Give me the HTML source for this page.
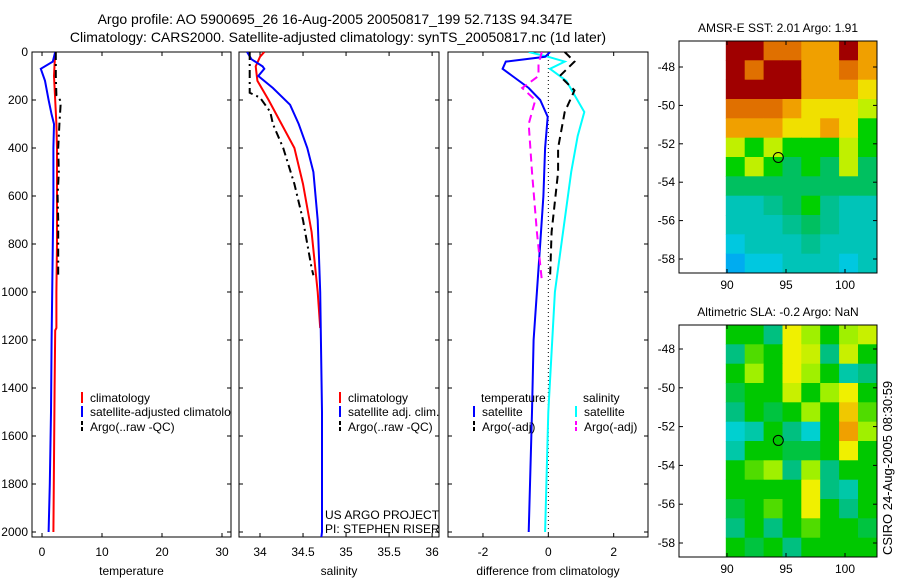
<!DOCTYPE html>
<html><head><meta charset="utf-8"><style>
body{margin:0;background:#fff}
svg{display:block;font-family:"Liberation Sans",sans-serif}
</style></head><body>
<svg id="fig" width="900" height="580" viewBox="0 0 900 580">
<defs><clipPath id="c1"><rect x="32" y="52" width="199" height="485"/></clipPath>
<clipPath id="c2"><rect x="239" y="52" width="200" height="485"/></clipPath>
<clipPath id="c3"><rect x="448" y="52" width="200" height="485"/></clipPath></defs>
<text x="335" y="24" font-size="14" text-anchor="middle">Argo profile: AO 5900695_26 16-Aug-2005 20050817_199 52.713S 94.347E</text>
<text x="338" y="42" font-size="14" text-anchor="middle">Climatology: CARS2000. Satellite-adjusted climatology: synTS_20050817.nc (1d later)</text>
<g id="g"></g>
<text x="325" y="519" font-size="12">US ARGO PROJECT</text>
<text x="325" y="533" font-size="12">PI: STEPHEN RISER</text>
<text transform="translate(892,555) rotate(-90)" font-size="13">CSIRO 24-Aug-2005 08:30:59</text>
</svg>
<script>
// ---- data ----
const depthTicks=[0,200,400,600,800,1000,1200,1400,1600,1800,2000];
const tempTicks=[0,10,20,30];
const salTicks=[34,34.5,35,35.5,36];
const salTickLabels=["34","34.5","35","35.5","36"];
const diffTicks=[-2,0,2];
const tClimD=[0,50,100,200,300,400,600,800,1000,1150,1160,1400,1700,2000];
const tClimV=[2.2,2.1,2.0,2.2,2.4,2.5,2.5,2.5,2.4,2.4,2.2,2.1,2.0,1.9];
const tSatD=[0,40,70,120,200,260,300,400,600,800,1000,1200,1500,1800,2000];
const tSatV=[2.2,1.8,-0.2,0.5,1.1,1.6,2.0,1.9,1.9,1.8,1.7,1.6,1.5,1.3,1.1];
const tArgoD=[0,100,180,200,220,300,400,500,600,700,800,930];
const tArgoV=[2.3,2.3,2.4,3.0,3.1,2.9,2.7,2.8,2.6,2.7,2.7,2.7];
const sClimD=[0,20,60,120,200,300,400,550,750,1000,1150];
const sClimV=[34.05,34.0,33.95,33.97,34.1,34.25,34.4,34.5,34.6,34.67,34.7];
const sSatD=[0,30,60,70,100,150,220,300,400,500,700,1000,1500,2000,2030];
const sSatV=[33.85,33.9,34.03,34.05,33.98,34.15,34.35,34.45,34.55,34.62,34.67,34.7,34.72,34.72,34.71];
const sArgoD=[0,170,190,250,300,400,550,700,900,930];
const sArgoV=[33.88,33.88,34.0,34.12,34.15,34.27,34.4,34.5,34.6,34.62];
const dTSatD=[0,20,40,70,100,150,200,270,400,600,800,1000,1200,1500,2000];
const dTSatV=[0.05,-0.1,-1.3,-1.4,-1.1,-0.6,-0.25,-0.02,-0.1,-0.15,-0.25,-0.35,-0.45,-0.5,-0.6];
const dSSatD=[0,20,40,70,120,250,350,500,800,1000,1500,2000];
const dSSatV=[-0.6,0.0,0.5,0.05,0.55,1.1,0.9,0.7,0.4,0.2,0.0,-0.1];
const dTArgoD=[0,40,100,160,250,400,500,750,950];
const dTArgoV=[0.5,0.8,0.35,0.8,0.5,0.3,0.3,0.1,0.05];
const dSArgoD=[0,50,100,150,200,300,500,750,950];
const dSArgoV=[-0.2,-0.3,-0.3,-0.8,-0.4,-0.6,-0.5,-0.35,-0.2];
const lonTicks=[90,95,100];
const latTicks=[-48,-50,-52,-54,-56,-58];
const sstGrid=[
[8,8,7,7,6,6,8,6],[8,7,8,8,6,6,7,6],[8,8,8,8,6,6,6,5],[7,7,7,6,5,5,5,4],
[6,6,6,5,5,6,5,3],[4,3,4,3,3,3,4,3],[3,4,3,2.5,3,2.5,4,2.5],[2.5,2.5,2.5,2.5,2.5,2.5,2.5,2.5],
[1.5,1.5,2,2.5,3,2,1.5,1.5],[1.5,1.5,1.5,2,2.5,2,1.5,1.5],[1,1.5,1.5,1.5,2,1.5,1.5,1.5],[0.5,1,1,1.5,1.5,1.5,1,1.5]];
const slaGrid=[
[0,0,-0.1,0.2,0.1,0,0.1,0.15],[-0.1,0.05,0,0.2,0.15,-0.1,0.15,0],[0,0.1,0,0.2,0.1,0,-0.15,-0.1],
[-0.05,0,0,0.15,0,0.1,0.2,0],[-0.1,0,-0.05,0,0.1,0,0.25,0.05],[-0.2,-0.15,0,-0.1,-0.2,0,0.3,0.1],
[-0.15,0,0,-0.05,-0.05,0,0.2,0],[0,0.05,0.1,-0.1,0.1,-0.1,0,0],[0,0,0,0,0.2,-0.1,-0.15,0],
[-0.05,0,0.05,0,0.2,0,-0.1,0],[-0.1,0,-0.1,0,0.05,0,0,-0.05],[0,-0.05,0,-0.1,0,0,0,0]];
const argoLon=94.347, argoLat=-52.713;

const NS="http://www.w3.org/2000/svg";
const G=document.getElementById('g');
function el(t,a,p){const e=document.createElementNS(NS,t);for(const k in a)e.setAttribute(k,a[k]);(p||G).appendChild(e);return e;}
const yD=d=>52+d*0.24;
const panels=[
 {x0:32,x1:231,vmin:-1.67,vmax:31.5,ticks:tempTicks,labels:tempTicks.map(String),xl:"temperature",name:"temperature"},
 {x0:239,x1:439,vmin:33.756,vmax:36.08,ticks:salTicks,labels:salTickLabels,xl:"salinity",name:"salinity"},
 {x0:448,x1:648,vmin:-3.07,vmax:3.05,ticks:diffTicks,labels:diffTicks.map(String),xl:"difference from climatology",name:"difference"}];
panels.forEach(p=>p.sx=v=>p.x0+(v-p.vmin)/(p.vmax-p.vmin)*(p.x1-p.x0));
panels.forEach((p,i)=>{
 const f=el('rect',{x:p.x0,y:52,width:p.x1-p.x0,height:485,fill:'none',stroke:'#000','stroke-width':1});
 
 
 p.ticks.forEach((t,j)=>{const x=p.sx(t);
  el('line',{x1:x,x2:x,y1:537,y2:533,stroke:'#000'});el('line',{x1:x,x2:x,y1:52,y2:56,stroke:'#000'});
  const tx=el('text',{x:x,y:556,'font-size':12,'text-anchor':'middle'});tx.textContent=p.labels[j];
  
  });
 depthTicks.forEach(d=>{const y=yD(d);
  el('line',{x1:p.x0,x2:p.x0+4,y1:y,y2:y,stroke:'#000'});el('line',{x1:p.x1,x2:p.x1-4,y1:y,y2:y,stroke:'#000'});
  if(i==0){const tx=el('text',{x:28,y:y+4,'font-size':12,'text-anchor':'end'});tx.textContent=d;
   
   }});
 const xl=el('text',{x:(p.x0+p.x1)/2,y:575,'font-size':12,'text-anchor':'middle'});xl.textContent=p.xl;
 
 
});
function line(p,D,V,col,w,dash,name,clip){
 const pts=D.map((d,k)=>p.sx(V[k]).toFixed(1)+','+yD(d).toFixed(1)).join(' ');
 const a={points:pts,fill:'none',stroke:col,'stroke-width':w,'clip-path':'url(#'+clip+')'};
 if(dash)a['stroke-dasharray']=dash;
 const e=el('polyline',a);
 
 
}
const [P1,P2,P3]=panels;
line(P1,tClimD,tClimV,'#f00',2,null,'temp-climatology-line','c1');
line(P1,tSatD,tSatV,'#00f',2,null,'temp-satellite-line','c1');
line(P1,tArgoD,tArgoV,'#000',2,'8,4,2,4','temp-argo-line','c1');
line(P2,sClimD,sClimV,'#f00',2,null,'sal-climatology-line','c2');
line(P2,sSatD,sSatV,'#00f',2,null,'sal-satellite-line','c2');
line(P2,sArgoD,sArgoV,'#000',2,'8,4,2,4','sal-argo-line','c2');
const zx=P3.sx(0);
const zl=el('line',{x1:zx,x2:zx,y1:52,y2:537,stroke:'#000','stroke-dasharray':'1,3'});


line(P3,dSSatD,dSSatV,'#0ff',2,null,'diff-sal-satellite-line','c3');
line(P3,dTSatD,dTSatV,'#00f',2,null,'diff-temp-satellite-line','c3');
line(P3,dTArgoD,dTArgoV,'#000',2,'8,5','diff-temp-argo-line','c3');
line(P3,dSArgoD,dSArgoV,'#f0f',2,'8,5','diff-sal-argo-line','c3');
function leg(x,y,col,txt,name,dash,clip){
 if(col){const a={x1:x,x2:x,y1:y-10,y2:y+1,stroke:col,'stroke-width':2};if(dash)a['stroke-dasharray']=dash;el('line',a);}
 const t=el('text',{x:col?x+8:x,y:y,'font-size':12});if(clip)t.setAttribute('clip-path','url(#'+clip+')');t.textContent=txt;
 
 
}
leg(82,402,'#f00','climatology','legend-temp-climatology',null,'c1');
leg(82,416,'#00f','satellite-adjusted climatology','legend-temp-satellite',null,'c1');
leg(82,431,'#000','Argo(..raw -QC)','legend-temp-argo','4,2','c1');
leg(340,402,'#f00','climatology','legend-sal-climatology');
leg(340,416,'#00f','satellite adj. clim.','legend-sal-satellite');
leg(340,431,'#000','Argo(..raw -QC)','legend-sal-argo','4,2');
leg(481,402,null,'temperature','legend-temperature-heading');
leg(474,416,'#00f','satellite','legend-diff-temp-satellite');
leg(474,431,'#000','Argo(-adj)','legend-diff-temp-argo','4,2');
leg(583,402,null,'salinity','legend-salinity-heading');
leg(576,416,'#0ff','satellite','legend-diff-sal-satellite');
leg(576,431,'#f0f','Argo(-adj)','legend-diff-sal-argo','4,2');
const sstStops=[[0,[0,144,255]],[1,[0,200,224]],[2,[0,192,144]],[2.5,[0,192,96]],[3,[0,208,0]],[4,[192,240,0]],[5,[240,224,0]],[6,[240,160,0]],[7,[224,112,0]],[8,[160,0,0]]];
const slaStops=[[-0.3,[0,160,255]],[-0.2,[0,208,208]],[-0.1,[0,192,128]],[0,[0,200,0]],[0.1,[160,240,0]],[0.2,[240,240,0]],[0.3,[240,160,0]]];
function cmap(st,v){if(v<=st[0][0])return 'rgb('+st[0][1]+')';for(let i=1;i<st.length;i++){if(v<=st[i][0]){const a=st[i-1],b=st[i],t=(v-a[0])/(b[0]-a[0]);return 'rgb('+a[1].map((c,k)=>Math.round(c+(b[1][k]-c)*t)).join(',')+')';}}return 'rgb('+st[st.length-1][1]+')';}
function map(top,bot,lat48,lat58,grid,stops,title,name){
 const fx0=679,fx1=877;
 const sy=l=>lat48+(l+48)/(-10)*(lat58-lat48);
 const sxl=lo=>727+(lo-90)*11.8;
 const latTop=-48+(top-lat48)/(lat58-lat48)*(-10), latBot=-48+(bot-lat48)/(lat58-lat48)*(-10);
 const lon0=89.9,lon1=102.7;
 const R=grid.length,C=grid[0].length;
 grid.forEach((row,r)=>row.forEach((v,c)=>{
  const la0=latTop+(latBot-latTop)*r/R, la1=latTop+(latBot-latTop)*(r+1)/R;
  const lo0=lon0+(lon1-lon0)*c/C, lo1=lon0+(lon1-lon0)*(c+1)/C;
  const x=sxl(lo0),y=sy(la0);
  const e=el('rect',{x:x.toFixed(1),y:y.toFixed(1),width:(sxl(lo1)-x+0.5).toFixed(1),height:(sy(la1)-y+0.5).toFixed(1),fill:cmap(stops,v)});
  
  
 }));
 const f=el('rect',{x:fx0,y:top,width:fx1-fx0,height:bot-top,fill:'none',stroke:'#000'});
 
 
 latTicks.forEach(l=>{const y=sy(l);el('line',{x1:fx0,x2:fx0+4,y1:y,y2:y,stroke:'#000'});el('line',{x1:fx1,x2:fx1-4,y1:y,y2:y,stroke:'#000'});
  const t=el('text',{x:675,y:y+4,'font-size':12,'text-anchor':'end'});t.textContent=l;
  
  });
 lonTicks.forEach(lo=>{const x=sxl(lo);el('line',{x1:x,x2:x,y1:top,y2:top+4,stroke:'#000'});el('line',{x1:x,x2:x,y1:bot,y2:bot-4,stroke:'#000'});
  const t=el('text',{x:x,y:bot+16,'font-size':12,'text-anchor':'middle'});t.textContent=lo;
  
  });
 const c=el('circle',{cx:sxl(argoLon),cy:sy(argoLat),r:5,fill:'none',stroke:'#000'});
 
 
 const t=el('text',{x:778,y:top-9,'font-size':12,'text-anchor':'middle'});t.textContent=title;
 
 
}
map(41,273,67,259,sstGrid,sstStops,'AMSR-E SST: 2.01 Argo: 1.91','sst-map');
map(325,557,349,543,slaGrid,slaStops,'Altimetric SLA: -0.2 Argo: NaN','sla-map');
</script>
</body></html>
